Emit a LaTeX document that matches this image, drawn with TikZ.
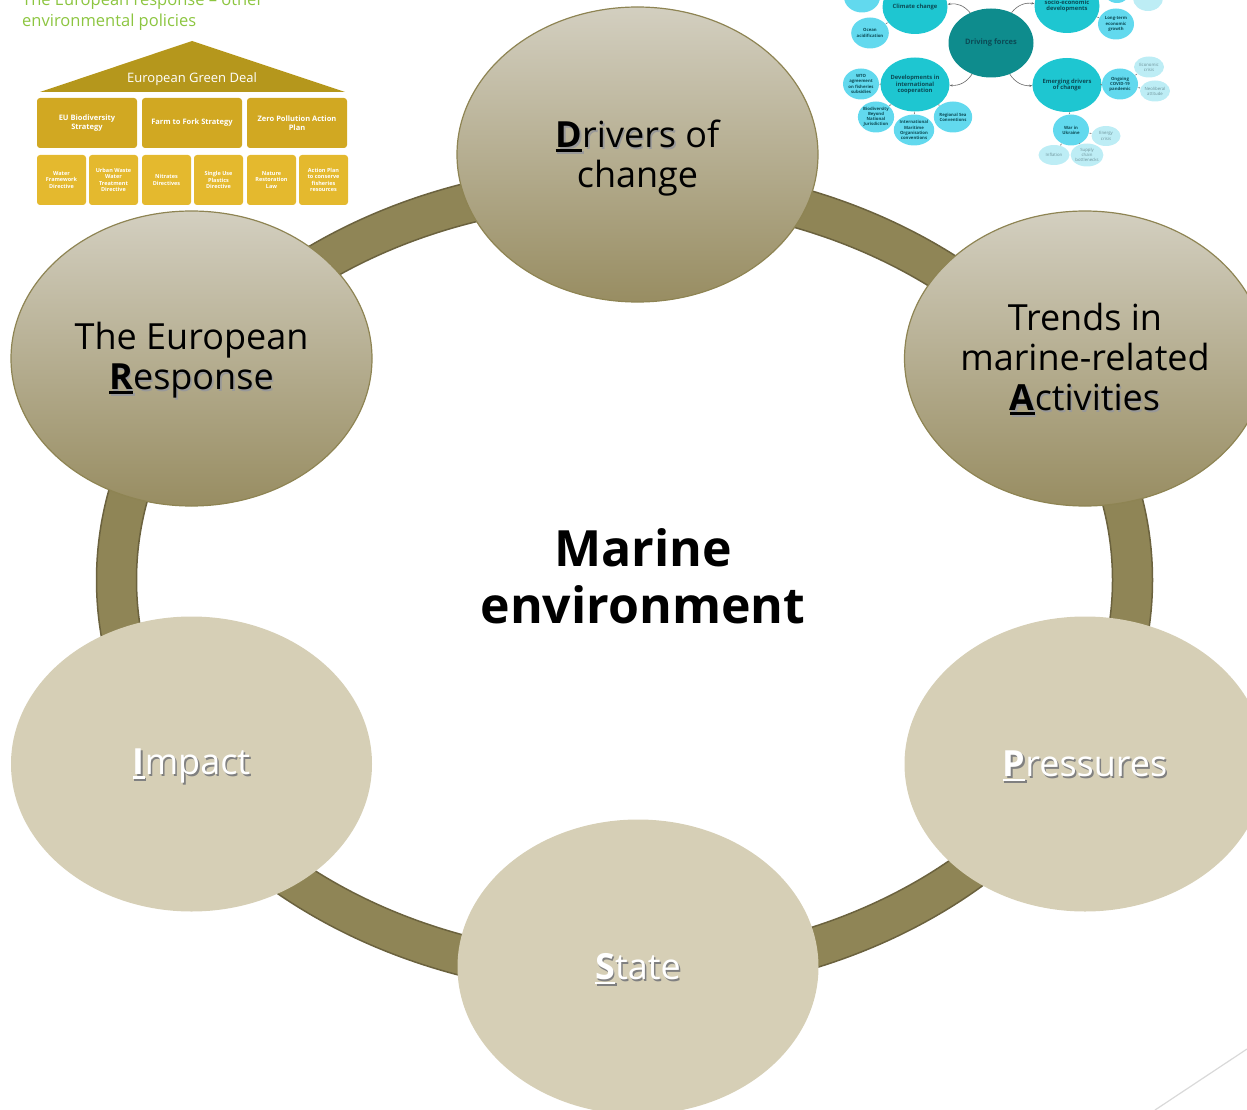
\documentclass[tikz,border=0pt]{standalone}
\usepackage{fontspec}
\setmainfont{Open Sans}
\usetikzlibrary{shapes.geometric,arrows.meta}

\definecolor{ringfill}{HTML}{8F8556}
\definecolor{ringedge}{HTML}{6B623E}
\definecolor{toptone}{HTML}{D3CFC0}
\definecolor{lowtone}{HTML}{988D62}
\definecolor{bubbleedge}{HTML}{8E8453}
\definecolor{plainbubble}{HTML}{D6CFB6}
\definecolor{roofgold}{HTML}{B5971C}
\definecolor{boxgold}{HTML}{D1A822}
\definecolor{cellgold}{HTML}{E4B92E}
\definecolor{leafgreen}{HTML}{8CC540}
\definecolor{tealdark}{HTML}{0E8C8D}
\definecolor{tealmid}{HTML}{1EC6D1}
\definecolor{teallight}{HTML}{62D9EE}
\definecolor{tealpale}{HTML}{BDEDF5}
\definecolor{tealtext}{HTML}{0B4A55}

\newsavebox\initbox
\newcommand\keyletter[1]{\sbox\initbox{\textbf{#1}}\rlap{\rule[-4.5pt]{\wd\initbox}{2.8pt}}\usebox\initbox}
\newcommand\shadowed[2][black!40]{\makebox[0pt][l]{\hspace{1.6pt}\raisebox{-1.6pt}{\textcolor{#1}{#2}}}#2}

\begin{document}
\begin{tikzpicture}[x=1pt,y=-1pt,
  stage/.style={ellipse, minimum width=361pt, minimum height=295pt, inner sep=0pt},
  shaded/.style={stage, top color=toptone, bottom color=lowtone, draw=bubbleedge, line width=1.2pt},
  flat/.style={stage, fill=plainbubble},
  stagetext/.style={align=center, inner sep=0pt, font=\fontsize{36}{40}\selectfont},
  deal/.style={rounded corners=3pt, fill=boxgold, text=white, align=center, inner sep=0pt, minimum width=100pt, minimum height=50pt, font=\fontsize{7.5}{8.5}\selectfont\bfseries},
  cell/.style={deal, fill=cellgold, minimum width=49pt, font=\fontsize{5.5}{6.4}\selectfont\bfseries},
  mm/.style={ellipse, inner sep=0pt, align=center, text=tealtext},
  mmmain/.style={mm, fill=tealmid, minimum width=65pt, minimum height=54pt, font=\fontsize{5.8}{6.8}\selectfont\bfseries},
  leaf/.style={mm, fill=teallight, minimum width=36pt, minimum height=31pt, font=\fontsize{4.3}{5.1}\selectfont\bfseries},
  paleleaf/.style={mm, fill=tealpale, text=tealtext!60, minimum width=30pt, minimum height=21pt, font=\fontsize{4.3}{5.1}\selectfont},
  mmarrow/.style={draw=black!60, line width=0.6pt, -{Stealth[length=3pt]}},
  mmtick/.style={draw=black!50, line width=0.4pt, -{Stealth[length=1.5pt]}}]
\useasboundingbox (0,0) rectangle (1247,1110);
\clip (0,0) rectangle (1247,1110);

% ring behind the six stages
\fill[ringfill, draw=ringedge, line width=1.5pt, even odd rule]
  (624.5,580) ellipse [x radius=528, y radius=416]
  (624.5,580) ellipse [x radius=488, y radius=376];

\node[shaded] (drivers) at (637.5,154.5) {};
\node[shaded] (trends) at (1085,358.5) {};
\node[shaded] (response) at (191.5,358.5) {};
\node[flat] (impact) at (191.5,764) {};
\node[flat] (pressures) at (1085,764) {};
\node[flat] (state) at (638,967) {};

\node[stagetext] (driverslbl) at (637.5,158) {\shadowed{\keyletter{D}rivers} of\\change};
\node[stagetext] (trendslbl) at (1085,360) {Trends in\\marine-related\\\shadowed{\keyletter{A}ctivities}};
\node[stagetext] (responselbl) at (191.5,361) {The European\\\shadowed{\keyletter{R}esponse}};
\node[stagetext, text=white] (impactlbl) at (191.5,767) {\shadowed[black!50]{\keyletter{I}mpact}};
\node[stagetext, text=white] (pressureslbl) at (1085,767) {\shadowed[black!50]{\keyletter{P}ressures}};
\node[stagetext, text=white] (statelbl) at (638,970) {\shadowed[black!50]{\keyletter{S}tate}};

\node[font=\fontsize{50}{57}\selectfont\bfseries, align=center] (marine) at (643,576) {Marine\\environment};

% green deal inset
\node[anchor=south west, inner sep=0pt, align=left, text=leafgreen, font=\fontsize{16.5}{21}\selectfont] (title) at (22,31) {The European response -- other\\environmental policies};
\fill[roofgold] (40,92) -- (192,41) -- (345,92) -- cycle;
\node[text=white, font=\fontsize{13}{15}\selectfont] (greendeal) at (192,79) {European Green Deal};
\node[deal] (biodiv) at (87,123) {EU Biodiversity\\Strategy};
\node[deal] (farmfork) at (192,123) {Farm to Fork Strategy};
\node[deal] (zeropol) at (297,123) {Zero Pollution Action\\Plan};
\node[cell] (water) at (61.5,180) {Water\\Framework\\Directive};
\node[cell] (urban) at (113.5,180) {Urban Waste\\Water\\Treatment\\Directive};
\node[cell] (nitrates) at (166.5,180) {Nitrates\\Directives};
\node[cell] (plastics) at (218.5,180) {Single Use\\Plastics\\Directive};
\node[cell] (nature) at (271.5,180) {Nature\\Restoration\\Law};
\node[cell] (fisheries) at (323.5,180) {Action Plan\\to conserve\\fisheries\\resources};

% driving forces map
\node[mm, fill=tealdark, minimum width=85pt, minimum height=69pt, font=\fontsize{7.5}{9}\selectfont\bfseries] (forces) at (991,43) {Driving forces};
\node[mmmain] (climate) at (915,7) {Climate change};
\node[mmmain] (socio) at (1067,6) {socio-economic\\developments};
\node[mmmain] (intl) at (915,84.5) {Developments in\\international\\cooperation};
\node[mmmain] (emerging) at (1067,85) {Emerging drivers\\of change};
\node[leaf] (topleaf) at (862,-3) {};
\node[leaf] (oceanacid) at (870,33) {Ocean\\acidification};
\node[leaf, minimum width=28pt, minimum height=26pt] (topmid) at (1117,-10) {};
\node[leaf] (growth) at (1116,24) {Long-term\\economic\\growth};
\node[paleleaf, minimum height=26pt] (innov) at (1148,-2) {Innovation};
\node[leaf] (wto) at (861,84) {WTO\\agreement\\on fisheries\\subsidies};
\node[leaf] (bbnj) at (876,117) {Biodiversity\\Beyond\\National\\Jurisdiction};
\node[leaf] (imo) at (914,130) {International\\Maritime\\Organisation\\conventions};
\node[leaf] (regsea) at (953,117) {Regional Sea\\Conventions};
\node[leaf] (covid) at (1120,84) {Ongoing\\COVID-19\\pandemic};
\node[paleleaf] (econ) at (1149,67) {Economic\\crisis};
\node[paleleaf] (neolib) at (1155,91) {Neoliberal\\attitude};
\node[leaf] (ukraine) at (1071,130) {War in\\Ukraine};
\node[paleleaf, minimum width=29pt, minimum height=20pt] (energy) at (1106,136) {Energy\\crisis};
\node[paleleaf, minimum width=31pt, minimum height=20pt] (inflation) at (1054,155) {Inflation};
\node[paleleaf, minimum width=29pt, minimum height=23pt] (supply) at (1087,155) {Supply\\chain\\bottlenecks};

\draw[mmarrow] (forces) to[bend right=30] (climate);
\draw[mmarrow] (forces) to[bend left=30] (socio);
\draw[mmarrow] (forces) to[bend left=30] (intl);
\draw[mmarrow] (forces) to[bend right=30] (emerging);
\draw[mmtick] (climate) -- (oceanacid);
\draw[mmtick] (socio) -- (growth);
\draw[mmtick] (intl) -- (wto);
\draw[mmtick] (intl) -- (bbnj);
\draw[mmtick] (intl) -- (imo);
\draw[mmtick] (intl) -- (regsea);
\draw[mmtick] (emerging) -- (covid);
\draw[mmtick] (emerging) -- (ukraine);
\draw[mmtick] (covid) -- (econ);
\draw[mmtick] (covid) -- (neolib);
\draw[mmtick] (ukraine) -- (energy);
\draw[mmtick] (ukraine) -- (inflation);
\draw[mmtick] (ukraine) -- (supply);

% slide corner line
\draw[black!15, line width=1.2pt] (1155,1110) -- (1247,1049);
\end{tikzpicture}
\end{document}
